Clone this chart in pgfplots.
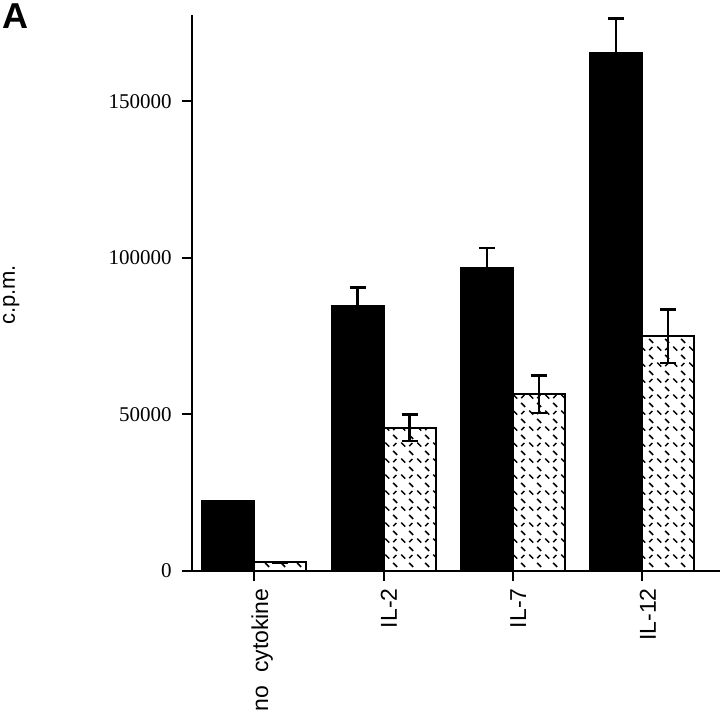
\documentclass[border=0pt]{standalone}
\usepackage{pgfplots}
\pgfplotsset{compat=1.18}
\usepackage{fontspec}
\setmainfont{Liberation Serif}
\setsansfont{Liberation Sans}
\usetikzlibrary{patterns}
\pgfdeclarepatternformonly{dashmix}{\pgfpoint{-1pt}{-1pt}}{\pgfpoint{9pt}{9pt}}{\pgfpoint{8pt}{8pt}}{%
  \pgfsetlinewidth{0.75pt}%
  \pgfpathmoveto{\pgfpoint{0.6pt}{7.2pt}}\pgfpathlineto{\pgfpoint{2.6pt}{5.2pt}}%
  \pgfpathmoveto{\pgfpoint{4.6pt}{3.0pt}}\pgfpathlineto{\pgfpoint{6.6pt}{1.0pt}}%
  \pgfpathmoveto{\pgfpoint{4.6pt}{5.4pt}}\pgfpathlineto{\pgfpoint{6.2pt}{7.0pt}}%
  \pgfusepath{stroke}}
\begin{document}
\begin{tikzpicture}
\path[use as bounding box] (-96pt,-71pt) rectangle (264pt,285.5pt);
\begin{axis}[
  at={(0pt,0pt)}, anchor=south west,
  scale only axis, width=264pt, height=278pt,
  xmin=-0.48, xmax=3.6, ymin=0, ymax=177600,
  axis x line*=bottom, axis y line*=left,
  axis line style={line width=1pt},
  tick style={line width=1pt, black},
  major tick length=5pt,
  tick align=outside,
  xtick={0,1,2,3},
  xticklabels={no\ \ cytokine, IL-2, IL-7, IL-12},
  xticklabel style={rotate=90, anchor=north east, font=\sffamily\fontsize{11.5}{13}\selectfont, inner sep=0.5pt, xshift=-3pt, yshift=2pt},
  ytick={0,50000,100000,150000},
  yticklabels={0,50000,100000,150000},
  yticklabel style={font=\rmfamily\fontsize{10.5}{12}\selectfont, inner sep=2pt, xshift=-3pt},
  ybar=0pt, bar width=26pt,
  clip=false,
]
\addplot[fill=black, draw=black, line width=1pt,
  error bars/.cd, y dir=plus, y explicit, error mark=|,
  error bar style={line width=1.1pt, black},
  error mark options={line width=1.3pt, black, mark size=4pt}]
  coordinates {(0,22300) +- (0,0) (1,84500) +- (0,6000) (2,96800) +- (0,6400) (3,165500) +- (0,11000)};
\addplot[pattern=dashmix, draw=black, line width=1pt,
  error bars/.cd, y dir=both, y explicit, error mark=|,
  error bar style={line width=1.1pt, black},
  error mark options={line width=1.3pt, black, mark size=4pt}]
  coordinates {(0,2800) +- (0,0) (1,45700) +- (0,4200) (2,56500) +- (0,6000) (3,75000) +- (0,8600)};
\end{axis}
\node[font=\sffamily\fontsize{11}{13}\selectfont, rotate=90, anchor=base, inner sep=0pt] at (-88.5pt,138pt) {c.p.m.};
\node[font=\sffamily\bfseries\fontsize{18}{20}\selectfont, anchor=north west, inner sep=0pt] at (-94.8pt,284pt) {A};
\end{tikzpicture}
\end{document}
